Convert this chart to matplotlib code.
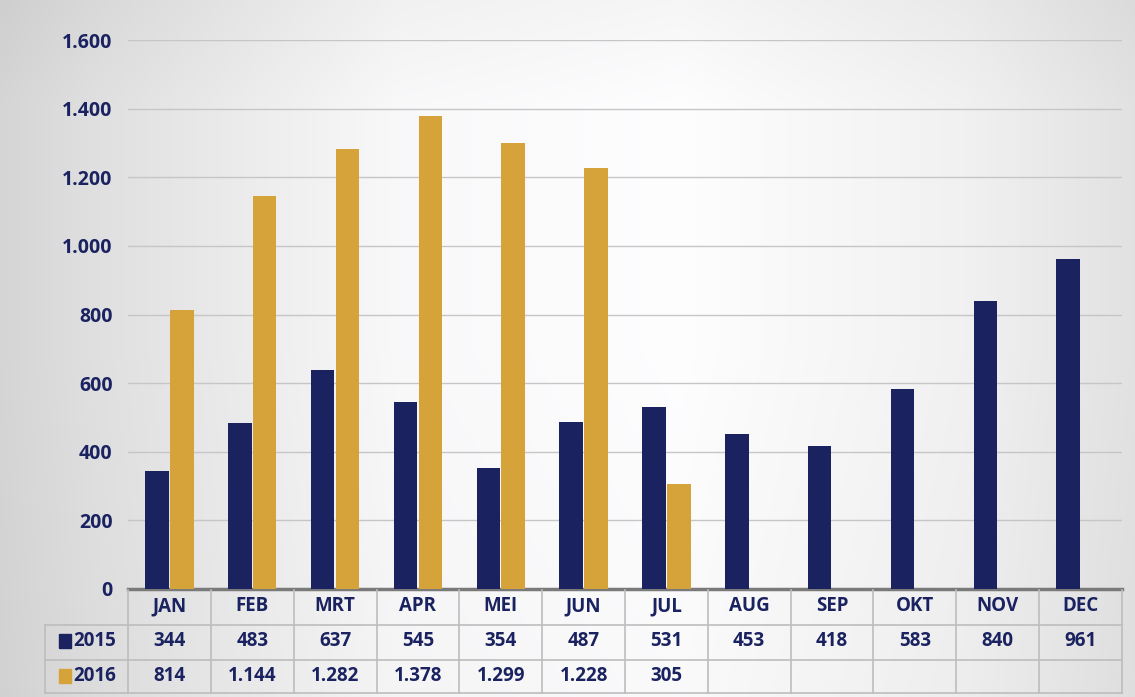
import matplotlib
matplotlib.use("Agg")
import matplotlib.pyplot as plt
import numpy as np
from matplotlib.transforms import blended_transform_factory
from matplotlib.lines import Line2D
from matplotlib.patches import Rectangle

months = ["JAN", "FEB", "MRT", "APR", "MEI", "JUN", "JUL", "AUG", "SEP", "OKT", "NOV", "DEC"]
v2015 = [344, 483, 637, 545, 354, 487, 531, 453, 418, 583, 840, 961]
v2016 = [814, 1144, 1282, 1378, 1299, 1228, 305]
series_labels = ["2015", "2016"]
yticks = [0, 200, 400, 600, 800, 1000, 1200, 1400, 1600]

NAVY = "#1a2260"
GOLD = "#d6a23a"
GRID = "#c6c6c6"

plt.rcParams['font.family'] = ['Open Sans', 'DejaVu Sans']

W, H = 1135, 697
fig = plt.figure(figsize=(W / 100, H / 100), dpi=100)

def fx(px):
    return px / W

def fy(py):
    return 1 - py / H

# background gradient
bg = fig.add_axes([0, 0, 1, 1], zorder=-10)
xs = np.linspace(0, 1, 500)
ys = np.linspace(0, 1, 300)
X, Y = np.meshgrid(xs, ys)
hx = np.interp(X, [0, 0.08, 0.35, 0.6, 0.85, 1.0], [0.84, 0.88, 0.98, 1.0, 0.95, 0.89])
vy = np.interp(Y, [0, 0.15, 0.5, 1.0], [0.97, 1.0, 1.0, 0.985])
val = np.clip(hx * vy, 0, 1)
img = np.dstack([val * 0.995, val * 0.995, val])
bg.imshow(img, aspect='auto', extent=[0, 1, 0, 1], origin='upper')
bg.axis('off')

left, right = 128, 1122
top, bottom = 40, 589
ax = fig.add_axes([fx(left), fy(bottom), fx(right) - fx(left), fy(top) - fy(bottom)])
ax.patch.set_alpha(0)

x = np.arange(len(months))
bw = 0.285
ax.bar(x - 0.15, v2015, width=bw, color=NAVY, zorder=3)
ax.bar(np.arange(len(v2016)) + 0.15, v2016, width=bw, color=GOLD, zorder=3)

ax.set_xlim(-0.5, len(months) - 0.5)
ax.set_ylim(0, 1600)
ax.set_yticks(yticks)
ax.set_yticklabels([f"{t:,}".replace(",", ".") for t in yticks],
                   fontsize=14, fontweight='bold', color=NAVY)
ax.tick_params(axis='y', length=0, pad=11)
ax.set_xticks([])
ax.grid(axis='y', color=GRID, linewidth=1, zorder=0)
for s in ['top', 'right', 'left']:
    ax.spines[s].set_visible(False)
ax.spines['bottom'].set_color('#7a7a7a')
ax.spines['bottom'].set_linewidth(2.5)

# data table
tr = blended_transform_factory(ax.transData, fig.transFigure)
lc = "#bdbdbd"
row_y = [590, 625, 660, 693]
row_c = [606, 641, 676]
xl = 45

for yy in row_y[1:]:
    fig.add_artist(Line2D([fx(xl), fx(right)], [fy(yy), fy(yy)], color=lc, lw=1.2))
for i in range(len(months) + 1):
    fig.add_artist(Line2D([i - 0.5, i - 0.5], [fy(row_y[0]), fy(row_y[-1])],
                          color=lc, lw=1.2, transform=tr))
fig.add_artist(Line2D([fx(xl), fx(xl)], [fy(row_y[1]), fy(row_y[-1])], color=lc, lw=1.2))

def fmt(v):
    return f"{v:,}".replace(",", ".")

FS = 13.5
for i, m in enumerate(months):
    fig.text(i, fy(row_c[0]), m, transform=tr, ha='center', va='center',
             fontsize=FS, fontweight='bold', color=NAVY)
    fig.text(i, fy(row_c[1]), fmt(v2015[i]), transform=tr, ha='center', va='center',
             fontsize=FS, fontweight='bold', color=NAVY)
    if i < len(v2016):
        fig.text(i, fy(row_c[2]), fmt(v2016[i]), transform=tr, ha='center', va='center',
                 fontsize=FS, fontweight='bold', color=NAVY)

for lab, col, yc in zip(series_labels, [NAVY, GOLD], row_c[1:]):
    fig.add_artist(Rectangle((fx(59), fy(yc + 7)), fx(12), 14 / H, color=col))
    fig.text(fx(73), fy(yc), lab, ha='left', va='center', fontsize=FS,
             fontweight='bold', color=NAVY)

fig.savefig("out.png", dpi=100)
